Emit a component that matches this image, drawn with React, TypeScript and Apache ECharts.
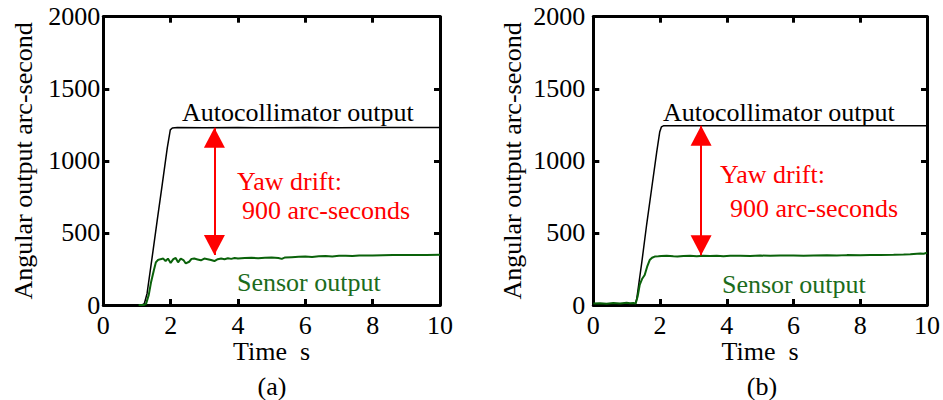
import React, { useEffect, useRef } from "react";
import * as echarts from "echarts";

// ---- data ----
const xTicks = [0, 2, 4, 6, 8, 10];
const yTicks = [0, 500, 1000, 1500, 2000];

// (a) autocollimator output
const autoA_t = [1.15, 1.22, 1.3, 1.45, 1.6, 1.75, 1.9, 1.99, 2.05, 2.2, 3, 4, 5, 6, 7, 8, 9, 10];
const autoA_v = [0, 10, 80, 330, 585, 835, 1090, 1215, 1228, 1232, 1230, 1231, 1229, 1231, 1230, 1232, 1231, 1232];
// (a) sensor output
const sensA_t = [1.05, 1.2, 1.27, 1.35, 1.42, 1.5, 1.56, 1.62, 1.7, 1.78, 1.85, 1.92, 2.0, 2.08, 2.15, 2.22, 2.3, 2.38, 2.45, 2.55, 2.62, 2.7, 2.8, 2.9, 3.0, 3.1, 3.2, 3.3, 3.4, 3.5, 3.6, 3.7, 3.8, 3.9, 4.0, 4.2, 4.4, 4.6, 4.8, 5.0, 5.2, 5.3, 5.4, 5.6, 5.8, 6.0, 6.2, 6.4, 6.6, 6.8, 7.0, 7.2, 7.4, 7.6, 7.8, 8.0, 8.3, 8.6, 9.0, 9.3, 9.6, 10];
const sensA_v = [0, 0, 8, 70, 160, 240, 295, 312, 318, 322, 305, 322, 292, 318, 326, 296, 322, 312, 288, 300, 320, 322, 316, 310, 322, 318, 312, 305, 318, 322, 318, 324, 320, 326, 322, 326, 328, 325, 328, 330, 326, 320, 330, 332, 334, 336, 333, 338, 340, 337, 341, 342, 340, 343, 344, 344, 345, 346, 346, 347, 347, 348];

// (b) autocollimator output
const autoB_t = [1.25, 1.3, 1.45, 1.6, 1.75, 1.9, 1.99, 2.04, 2.1, 10];
const autoB_v = [0, 40, 290, 560, 810, 1060, 1200, 1235, 1243, 1243];
// (b) sensor output
const sensB_t = [0, 0.2, 0.4, 0.6, 0.8, 1.0, 1.1, 1.2, 1.27, 1.33, 1.39, 1.46, 1.54, 1.62, 1.69, 1.76, 1.84, 1.95, 2.04, 2.2, 2.4, 2.52, 2.7, 2.9, 3.1, 3.3, 3.5, 3.7, 3.9, 4.1, 4.4, 4.7, 5.0, 5.3, 5.6, 6.0, 6.3, 6.6, 7.0, 7.3, 7.6, 8.0, 8.3, 8.6, 9.0, 9.3, 9.5, 9.7, 9.8, 9.9, 10];
const sensB_v = [10, 12, 8, 14, 10, 15, 12, 14, 10, 60, 139, 180, 208, 270, 312, 328, 336, 338, 340, 342, 338, 336, 340, 341, 338, 342, 340, 342, 339, 341, 342, 340, 343, 341, 343, 343, 341, 344, 345, 343, 346, 345, 347, 346, 348, 350, 352, 356, 358, 355, 362];

// yaw drift arrows [x, top, bottom]
const arrowA = [3.3, 1230, 347];
const arrowB = [3.23, 1243, 345];

const panelLabels = ["(a)", "(b)"];
const xName = "Time  s";
const yName = "Angular output arc-second";

const FONT = "Liberation Serif";
const GREEN_LINE = "#0a620a";
const GREEN_TEXT = "#1c6c1c";

const pairs = (t: number[], v: number[]) => t.map((x, i) => [x, v[i]]);

export default function App() {
  const ref = useRef<HTMLDivElement>(null);
  useEffect(() => {
    document.body.style.margin = "0";
    const chart = echarts.init(ref.current!, null, { renderer: "svg" });

    const grids = [
      { left: 103.3, top: 16.7, width: 336.7, height: 288.3 },
      { left: 593.3, top: 16.7, width: 336.7, height: 288.3 },
    ];
    const axisLine = { show: true, onZero: false, lineStyle: { color: "#000", width: 3 } };
    const tick = { show: true, inside: true, length: 6, lineStyle: { color: "#000", width: 3 } };
    const xAxes: any[] = [];
    const yAxes: any[] = [];
    [0, 1].forEach((g) => {
      xAxes.push({
        type: "value", gridIndex: g, position: "bottom", min: xTicks[0], max: xTicks[xTicks.length - 1], interval: 2,
        axisLine, axisTick: tick, splitLine: { show: false },
        axisLabel: { color: "#000", fontFamily: FONT, fontSize: 26, lineHeight: 18, margin: 11, showMinLabel: true, showMaxLabel: true, formatter: (v: number) => String(v) },
        name: xName, nameLocation: "middle", nameGap: 36, nameMoveOverlap: false,
        nameTextStyle: { color: "#000", fontFamily: FONT, fontSize: 26, lineHeight: 20 },
      });
      xAxes.push({
        type: "value", gridIndex: g, position: "top", min: xTicks[0], max: xTicks[xTicks.length - 1], interval: 2,
        axisLine, axisTick: tick, splitLine: { show: false }, axisLabel: { show: false },
      });
      yAxes.push({
        type: "value", gridIndex: g, position: "left", min: yTicks[0], max: yTicks[yTicks.length - 1], interval: 500,
        axisLine, axisTick: tick, splitLine: { show: false },
        axisLabel: { color: "#000", fontFamily: FONT, fontSize: 26, margin: g === 0 ? 3 : 8, showMinLabel: true, showMaxLabel: true, formatter: (v: number) => String(v) },
        name: yName, nameLocation: "middle", nameRotate: 90, nameGap: g === 0 ? 67 : 68, nameMoveOverlap: false,
        nameTextStyle: { color: "#000", fontFamily: FONT, fontSize: 26 },
      });
      yAxes.push({
        type: "value", gridIndex: g, position: "right", min: yTicks[0], max: yTicks[yTicks.length - 1], interval: 500,
        axisLine, axisTick: tick, splitLine: { show: false }, axisLabel: { show: false },
      });
    });

    const arrowMark = (a: number[]) => ({
      silent: true,
      symbol: ["triangle", "triangle"],
      symbolSize: [21, 20],
      symbolOffset: [[0, 10], [0, 10]],
      lineStyle: { color: "#ff0000", width: 2, type: "solid" },
      itemStyle: { color: "#ff0000" },
      label: { show: false },
      emphasis: { disabled: true },
      data: [[{ coord: [a[0], a[1]] }, { coord: [a[0], a[2]] }]],
    });

    const lineSeries = (name: string, idx: number, data: number[][], color: string, width: number, mark?: any) => ({
      type: "line", name, xAxisIndex: idx * 2, yAxisIndex: idx * 2, data,
      showSymbol: false, symbol: "none", lineStyle: { color, width }, itemStyle: { color },
      markLine: mark, z: 2,
    });

    const txt = (x: number, y: number, text: string, color: string, align = "left") => ({
      type: "text", x, y, silent: true,
      style: { text, fill: color, fontFamily: FONT, fontSize: 26, textAlign: align, textVerticalAlign: "middle" },
    });

    chart.setOption({
      animation: false,
      backgroundColor: "#fff",
      grid: grids,
      xAxis: xAxes,
      yAxis: yAxes,
      series: [
        lineSeries("Autocollimator output (a)", 0, pairs(autoA_t, autoA_v), "#000", 1.5, arrowMark(arrowA)),
        lineSeries("Sensor output (a)", 0, pairs(sensA_t, sensA_v), GREEN_LINE, 2),
        lineSeries("Autocollimator output (b)", 1, pairs(autoB_t, autoB_v), "#000", 1.5, arrowMark(arrowB)),
        lineSeries("Sensor output (b)", 1, pairs(sensB_t, sensB_v), GREEN_LINE, 2),
      ],
      graphic: [
        txt(182, 112, "Autocollimator output", "#000"),
        txt(663, 112, "Autocollimator output", "#000"),
        txt(237, 181, "Yaw drift:", "#ff0000"),
        txt(242, 210, "900 arc-seconds", "#ff0000"),
        txt(720, 174, "Yaw drift:", "#ff0000"),
        txt(730, 208, "900 arc-seconds", "#ff0000"),
        txt(237, 282, "Sensor output", GREEN_TEXT),
        txt(722, 284, "Sensor output", GREEN_TEXT),
        txt(272, 386, panelLabels[0], "#000", "center"),
        txt(762, 386, panelLabels[1], "#000", "center"),
      ],
    });
    return () => chart.dispose();
  }, []);
  return <div ref={ref} style={{ width: 943, height: 400 }} />;
}
